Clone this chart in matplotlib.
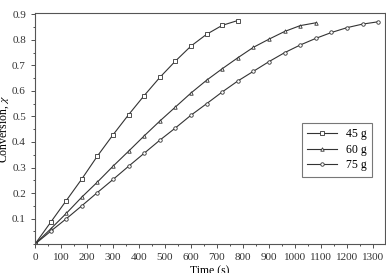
import matplotlib
matplotlib.use("Agg")
import matplotlib.pyplot as plt
from matplotlib.ticker import MultipleLocator

plt.rcParams['font.family'] = ['Liberation Serif', 'DejaVu Serif']
plt.rcParams['mathtext.fontset'] = 'stix'

# time points every 60 s
t45 = [0, 60, 120, 180, 240, 300, 360, 420, 480, 540, 600, 660, 720, 780]
x45 = [0, 0.085, 0.17, 0.255, 0.345, 0.428, 0.507, 0.582, 0.653, 0.717, 0.776, 0.822, 0.857, 0.876]

t60 = [0, 60, 120, 180, 240, 300, 360, 420, 480, 540, 600, 660, 720, 780, 840, 900, 960, 1020, 1080]
x60 = [0, 0.059, 0.12, 0.184, 0.243, 0.305, 0.364, 0.424, 0.482, 0.537, 0.592, 0.642, 0.687, 0.730,
       0.771, 0.803, 0.833, 0.856, 0.867]

t75 = [0, 60, 120, 180, 240, 300, 360, 420, 480, 540, 600, 660, 720, 780, 840, 900, 960, 1020,
       1080, 1140, 1200, 1260, 1320]
x75 = [0, 0.05, 0.099, 0.15, 0.202, 0.253, 0.305, 0.356, 0.407, 0.455, 0.505, 0.55, 0.596, 0.639,
       0.677, 0.715, 0.75, 0.78, 0.806, 0.829, 0.848, 0.862, 0.871]

fig = plt.figure(figsize=(3.86, 2.73), dpi=100)
ax = fig.add_axes([0.0907, 0.106, 0.906, 0.846])

style = dict(color='#333333', lw=0.8, markersize=2.5, markerfacecolor='white', markeredgewidth=0.6)
ax.plot(t45, x45, marker='s', label='45 g', **style)
ax.plot(t60, x60, marker='^', label='60 g', **style)
ax.plot(t75, x75, marker='o', label='75 g', **style)

ax.set_xlim(0, 1345)
ax.set_ylim(0, 0.905)
ax.xaxis.set_major_locator(MultipleLocator(100))
ax.xaxis.set_minor_locator(MultipleLocator(50))
ax.yaxis.set_major_locator(MultipleLocator(0.1))
ax.yaxis.set_minor_locator(MultipleLocator(0.05))
ax.set_yticks([0.1, 0.2, 0.3, 0.4, 0.5, 0.6, 0.7, 0.8, 0.9])
ax.tick_params(which='both', direction='out', labelsize=8, width=0.6, colors='#333333')
ax.tick_params(which='major', length=3)
ax.tick_params(which='minor', length=1.5)
for s in ax.spines.values():
    s.set_linewidth(0.8)
    s.set_color('#555555')

ax.set_xlabel('Time (s)', fontsize=8.5, labelpad=2)
ax.set_ylabel(r'Conversion, $\chi$', fontsize=8.5, labelpad=1)

leg = ax.legend(loc='upper left', bbox_to_anchor=(0.763, 0.524), fontsize=8.5, frameon=True,
                fancybox=False, edgecolor='#555555', handlelength=2.5, borderpad=0.45,
                labelspacing=0.3, borderaxespad=0)
leg.get_frame().set_linewidth(0.8)

fig.savefig('out.png', dpi=100)
